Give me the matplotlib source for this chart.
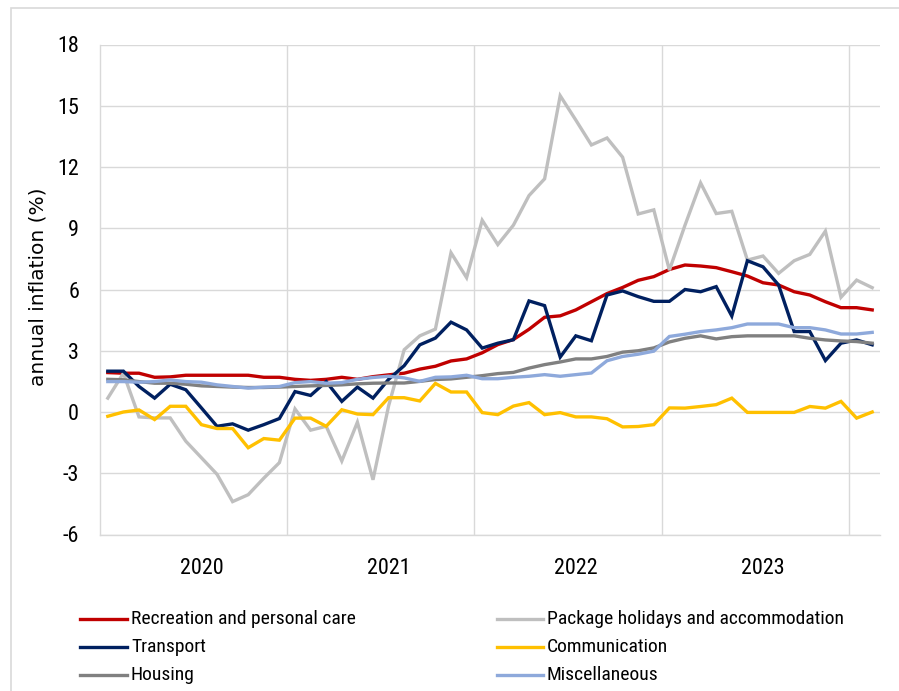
import os
import matplotlib
matplotlib.use("Agg")
import matplotlib.pyplot as plt
from matplotlib import font_manager
from matplotlib.font_manager import FontProperties
from matplotlib.lines import Line2D
from matplotlib.patches import Rectangle
import numpy as np

# ---------------- data ----------------
years = ["2020", "2021", "2022", "2023"]
months_per_year = 12

recreation = [1.93, 1.9, 1.9, 1.7, 1.72, 1.8, 1.8, 1.8, 1.8, 1.8, 1.7, 1.7,
              1.6, 1.55, 1.6, 1.7, 1.6, 1.73, 1.82, 1.9, 2.1, 2.24, 2.5, 2.6,
              2.9, 3.3, 3.55, 4.05, 4.64, 4.71, 5.0, 5.4, 5.8, 6.1, 6.45, 6.63,
              6.98, 7.2, 7.15, 7.07, 6.87, 6.66, 6.33, 6.22, 5.89, 5.73, 5.4, 5.11,
              5.11, 5.0]
package = [0.68, 1.9, -0.24, -0.29, -0.29, -1.43, -2.24, -3.05, -4.39, -4.05, -3.24, -2.48,
           0.15, -0.89, -0.7, -2.4, -0.5, -3.32, 0.3, 3.05, 3.73, 4.06, 7.8, 6.58,
           9.39, 8.2, 9.15, 10.6, 11.42, 15.49, 14.3, 13.08, 13.42, 12.48, 9.7, 9.9,
           6.95, 9.15, 11.22, 9.72, 9.83, 7.44, 7.64, 6.79, 7.41, 7.72, 8.86, 5.62,
           6.46, 6.09]
transport = [2.0, 2.0, 1.25, 0.68, 1.36, 1.09, 0.2, -0.7, -0.58, -0.89, -0.62, -0.32,
             1.0, 0.81, 1.49, 0.52, 1.22, 0.68, 1.6, 2.27, 3.29, 3.62, 4.4, 4.02,
             3.13, 3.37, 3.54, 5.44, 5.21, 2.69, 3.73, 3.49, 5.73, 5.93, 5.65, 5.42,
             5.42, 6.0, 5.89, 6.14, 4.7, 7.41, 7.11, 6.22, 3.94, 3.94, 2.52, 3.37,
             3.53, 3.29]
communication = [-0.21, 0.0, 0.1, -0.37, 0.28, 0.28, -0.62, -0.81, -0.81, -1.75, -1.3, -1.38,
                 -0.3, -0.3, -0.7, 0.11, -0.1, -0.13, 0.7, 0.7, 0.54, 1.4, 0.98, 0.98,
                 -0.03, -0.13, 0.29, 0.46, -0.13, -0.03, -0.24, -0.24, -0.33, -0.73, -0.71, -0.62,
                 0.2, 0.19, 0.27, 0.36, 0.68, -0.02, -0.02, -0.02, -0.02, 0.27, 0.19, 0.52,
                 -0.3, 0.0]
housing = [1.6, 1.58, 1.49, 1.41, 1.41, 1.36, 1.28, 1.25, 1.22, 1.2, 1.2, 1.22,
           1.25, 1.28, 1.3, 1.33, 1.38, 1.41, 1.42, 1.42, 1.5, 1.59, 1.62, 1.7,
           1.78, 1.88, 1.94, 2.15, 2.32, 2.45, 2.6, 2.6, 2.72, 2.93, 3.0, 3.14,
           3.43, 3.61, 3.73, 3.58, 3.69, 3.73, 3.73, 3.73, 3.73, 3.61, 3.53, 3.48,
           3.45, 3.37]
miscellaneous = [1.49, 1.49, 1.46, 1.49, 1.57, 1.49, 1.46, 1.33, 1.25, 1.17, 1.22, 1.25,
                 1.44, 1.49, 1.41, 1.44, 1.6, 1.69, 1.75, 1.67, 1.5, 1.7, 1.72, 1.8,
                 1.63, 1.63, 1.7, 1.75, 1.83, 1.75, 1.83, 1.91, 2.51, 2.72, 2.83, 2.98,
                 3.7, 3.81, 3.94, 4.02, 4.13, 4.31, 4.31, 4.31, 4.13, 4.13, 4.02, 3.82,
                 3.82, 3.9]

series_names = ["Recreation and personal care", "Package holidays and accommodation",
                "Transport", "Communication", "Housing", "Miscellaneous"]
series_values = [recreation, package, transport, communication, housing, miscellaneous]
series_colors = ["#C00000", "#BFBFBF", "#002060", "#FFC000", "#808080", "#8EA9DB"]

y_ticks = [-6, -3, 0, 3, 6, 9, 12, 15, 18]

# ---------------- fonts: prefer a narrow sans ----------------
preferred_files = ["LiberationSansNarrow-Regular.ttf", "ARIALN.TTF", "Arial Narrow.ttf",
                   "RobotoCondensed-Regular.ttf", "NotoSans-Condensed.ttf",
                   "OpenSans-CondensedRegular.ttf", "OpenSans_Condensed-Regular.ttf",
                   "NotoSans-SemiCondensed.ttf", "DejaVuSansCondensed.ttf"]
by_base = {os.path.basename(f.fname): f.fname for f in font_manager.fontManager.ttflist}
narrow_fp = None
for b in preferred_files:
    if b in by_base:
        narrow_fp = FontProperties(fname=by_base[b])
        break
if narrow_fp is None:
    names = {f.name for f in font_manager.fontManager.ttflist}
    fam = "Liberation Sans" if "Liberation Sans" in names else "DejaVu Sans"
    narrow_fp = FontProperties(family=fam)

W, H = 899, 691
fig = plt.figure(figsize=(W / 100, H / 100), dpi=100)
fig.patch.set_facecolor("white")
renderer = fig.canvas.get_renderer()


def size_for_width(text, target_px, ref=10.0):
    t = fig.text(0, 0, text, fontproperties=narrow_fp, fontsize=ref)
    w = t.get_window_extent(renderer).width
    t.remove()
    return ref * target_px / w


tick_size = min(size_for_width("2020", 43), 17)
legend_size = min(size_for_width("Package holidays and accommodation", 295), 15.5)

# outer chart border (light grey)
fig.patches.append(Rectangle((11 / W, -0.2), 1.5, 0.2 + (1 - 8 / H),
                             transform=fig.transFigure, fill=False,
                             edgecolor="#D9D9D9", linewidth=1.2, zorder=0))

left, right = 100 / W, 880 / W
top, bottom = 1 - 44.5 / H, 1 - 534.5 / H
ax = fig.add_axes([left, bottom, right - left, top - bottom])

n = len(recreation)
x = np.arange(n)
lines = []
for name, vals, col in zip(series_names, series_values, series_colors):
    ln, = ax.plot(x, vals, color=col, linewidth=2.4, solid_joinstyle="miter",
                  label=name, zorder=3)
    lines.append(ln)

ax.set_xlim(-0.5, n - 0.5)
ax.set_ylim(-6, 18)
ax.set_yticks(y_ticks)
ax.set_yticklabels([str(t) for t in y_ticks])
for lab in ax.get_yticklabels():
    lab.set_fontproperties(narrow_fp)
    lab.set_fontsize(tick_size)
ax.tick_params(axis="y", length=0, pad=15)
ax.set_xticks([])

grid_c = "#D9D9D9"
for t in y_ticks:
    ax.axhline(t, color=grid_c, linewidth=1.0, zorder=1)
year_bounds = [months_per_year * (k + 1) - 0.5 for k in range(len(years))]
for b in year_bounds:
    ax.axvline(b, color=grid_c, linewidth=1.0, zorder=1)

for s in ["top", "right"]:
    ax.spines[s].set_visible(False)
for s in ["left", "bottom"]:
    ax.spines[s].set_color(grid_c)
    ax.spines[s].set_linewidth(1.0)

# year labels
trans = matplotlib.transforms.blended_transform_factory(ax.transData, ax.transAxes)
for k, yr in enumerate(years):
    ax.text(months_per_year * k + 6, -(569 - 534.5) / 490, yr, transform=trans,
            ha="center", va="center", fontproperties=narrow_fp, fontsize=tick_size)

# y label
fig.text(38 / W, 1 - 287 / H, "annual inflation (%)", rotation=90,
         ha="center", va="center", fontfamily="DejaVu Sans", fontsize=14.5)

# legend (two columns, manual layout)
col_x = [(80, 127, 131), (497, 543, 547)]
row_y = [619, 647, 675]
for idx, ln in enumerate(lines):
    r, c = idx // 2, idx % 2
    x0, x1, xt = col_x[c]
    yy = 1 - row_y[r] / H
    fig.lines.append(Line2D([x0 / W, x1 / W], [yy, yy], transform=fig.transFigure,
                            color=ln.get_color(), linewidth=ln.get_linewidth()))
    fig.text(xt / W, yy, ln.get_label(), ha="left", va="center",
             fontproperties=narrow_fp, fontsize=legend_size)

fig.savefig("out.png", dpi=100, facecolor="white")
